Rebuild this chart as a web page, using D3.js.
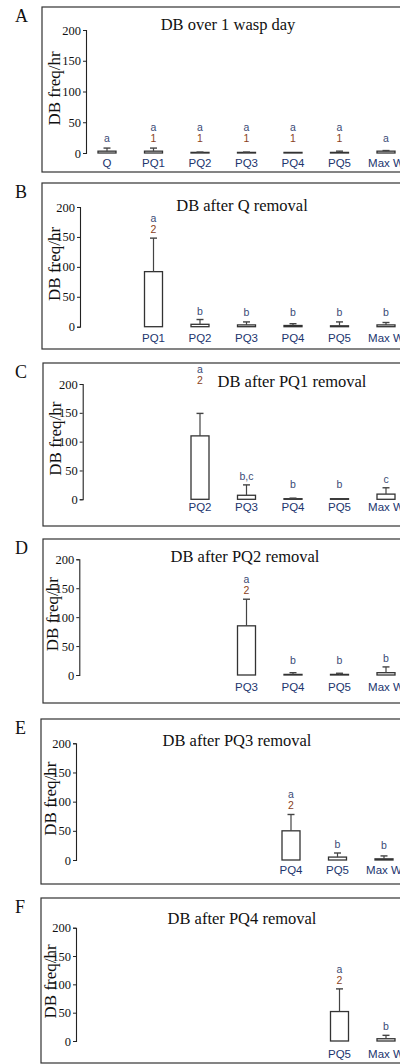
<!DOCTYPE html>
<html>
<head>
<meta charset="utf-8">
<script src="https://cdn.jsdelivr.net/npm/d3@7"></script>
<style>
  body { margin: 0; background: #fff; }
</style>
</head>
<body>
<svg id="chart"></svg>
<script>
// categories in the order they sit on every x-axis
const allCats = ["Q", "PQ1", "PQ2", "PQ3", "PQ4", "PQ5", "Max W"];
const yTicks = [0, 50, 100, 150, 200];
const panelIds = ["A", "B", "C", "D", "E", "F"];
const titles = ["DB over 1 wasp day", "DB after Q removal", "DB after PQ1 removal",
    "DB after PQ2 removal", "DB after PQ3 removal", "DB after PQ4 removal"];

// mean DB freq/hr, top of error bar, letter group, number group
const catsA = ["Q", "PQ1", "PQ2", "PQ3", "PQ4", "PQ5", "Max W"];
const meanA = [3, 3, 1, 1, 0, 1, 3];
const errA = [8, 8, 1.5, 1.5, 0, 3, 4];
const grpA = ["a", "a", "a", "a", "a", "a", "a"];
const numA = ["", "1", "1", "1", "1", "1", ""];

const catsB = ["PQ1", "PQ2", "PQ3", "PQ4", "PQ5", "Max W"];
const meanB = [92, 4, 3, 2, 1.5, 3];
const errB = [148, 12, 8, 5, 8, 7];
const grpB = ["a", "b", "b", "b", "b", "b"];
const numB = ["2", "", "", "", "", ""];

const catsC = ["PQ2", "PQ3", "PQ4", "PQ5", "Max W"];
const meanC = [110, 7, 1, 0, 9];
const errC = [149, 25, 2, 0, 20];
const grpC = ["a", "b,c", "b", "b", "c"];
const numC = ["2", "", "", "", ""];

const catsD = ["PQ3", "PQ4", "PQ5", "Max W"];
const meanD = [85, 1, 0, 4];
const errD = [131, 4, 3, 14];
const grpD = ["a", "b", "b", "b"];
const numD = ["2", "", "", ""];

const catsE = ["PQ4", "PQ5", "Max W"];
const meanE = [50, 5, 2];
const errE = [78, 12, 7];
const grpE = ["a", "b", "b"];
const numE = ["2", "", ""];

const catsF = ["PQ5", "Max W"];
const meanF = [52, 4];
const errF = [92, 10];
const grpF = ["a", "b"];
const numF = ["2", ""];

const w = 400, h = 1064;
const barW = 18, capW = 7;
const serif = '"Liberation Serif", "Times New Roman", "DejaVu Serif", serif';
const sans = '"Liberation Sans", Arial, sans-serif';

// frame / axis placement for each panel
let layout = [
    {top: 7, bottom: 172, left: 42, axisX: 86, y200: 30, y0: 153, tx: 228, ty: 30, lx: 54, catY: 167, shift: 0, lift: 0},
    {top: 183, bottom: 349, left: 42, axisX: 80, y200: 207, y0: 326.7, tx: 242, ty: 211, lx: 54, catY: 342, shift: 0, lift: 0},
    {top: 363, bottom: 526, left: 43, axisX: 82.7, y200: 384, y0: 499.3, tx: 292, ty: 387, lx: 55, catY: 511, shift: 0, lift: 24},
    {top: 539, bottom: 703, left: 43, axisX: 79.3, y200: 559.3, y0: 675, tx: 245, ty: 562, lx: 52, catY: 691, shift: 0, lift: 0},
    {top: 719, bottom: 884, left: 41, axisX: 76, y200: 743.3, y0: 860, tx: 237, ty: 746, lx: 50, catY: 874, shift: -2, lift: 0},
    {top: 898, bottom: 1063, left: 41, axisX: 76, y200: 927.7, y0: 1041, tx: 242, ty: 924, lx: 50, catY: 1058, shift: 0, lift: 0}
];

let panelData = [
    {cats: catsA, mean: meanA, err: errA, grp: grpA, num: numA},
    {cats: catsB, mean: meanB, err: errB, grp: grpB, num: numB},
    {cats: catsC, mean: meanC, err: errC, grp: grpC, num: numC},
    {cats: catsD, mean: meanD, err: errD, grp: grpD, num: numD},
    {cats: catsE, mean: meanE, err: errE, grp: grpE, num: numE},
    {cats: catsF, mean: meanF, err: errF, grp: grpF, num: numF}
];

let svg = d3.select('#chart')
    .attr('width', w)
    .attr('height', h);

function drawPanel(i) {
    let L = layout[i];
    let P = panelData[i];
    let g = svg.append('g');

    let rows = P.cats.map((c, k) => ({cat: c, mean: P.mean[k], err: P.err[k], grp: P.grp[k], num: P.num[k]}));

    let xScale = d3.scalePoint()
        .domain(allCats)
        .range([107 + L.shift, 386 + L.shift]);

    let yScale = d3.scaleLinear()
        .domain([0, 200])
        .range([L.y0, L.y200]);

    //frame
    g.append('rect')
        .attr('x', L.left)
        .attr('y', L.top)
        .attr('width', w)
        .attr('height', L.bottom - L.top)
        .attr('fill', 'none')
        .attr('stroke', '#333')
        .attr('stroke-width', 1.2);

    //panel letter
    g.append('text')
        .attr('x', 15)
        .attr('y', L.top + 15)
        .style('font-family', serif)
        .style('font-size', '18px')
        .attr('fill', '#111')
        .text(panelIds[i]);

    //title
    g.append('text')
        .attr('x', L.tx)
        .attr('y', L.ty)
        .style('text-anchor', 'middle')
        .style('font-family', serif)
        .style('font-size', '16.5px')
        .attr('fill', '#111')
        .text(titles[i]);

    //y-axis
    let yAxis = d3.axisLeft(yScale)
        .tickValues(yTicks)
        .tickSize(3)
        .tickPadding(2);

    let ax = g.append('g')
        .attr('transform', 'translate(' + L.axisX + ',0)')
        .call(yAxis);
    ax.select('.domain').attr('stroke', '#222').attr('stroke-width', 1.1);
    ax.selectAll('.tick line').attr('stroke', '#222');
    ax.selectAll('.tick text')
        .style('font-family', serif)
        .style('font-size', '12.5px')
        .attr('fill', '#111');

    //y-axis title
    g.append('text')
        .attr('transform', 'translate(' + L.lx + ',' + ((L.y0 + L.y200) / 2 - 3) + ') rotate(-90)')
        .attr('dy', '0.35em')
        .style('text-anchor', 'middle')
        .style('font-family', serif)
        .style('font-size', '17px')
        .attr('fill', '#111')
        .text('DB freq/hr');

    //bars (zero bars still show as a line)
    g.selectAll('rect.bar')
        .data(rows)
        .enter()
        .append('rect')
        .classed('bar', true)
        .attr('x', d => xScale(d.cat) - barW / 2)
        .attr('y', d => Math.min(yScale(d.mean), L.y0 - 0.6))
        .attr('width', barW)
        .attr('height', d => Math.max(L.y0 - yScale(d.mean), 0.6))
        .attr('fill', '#fff')
        .attr('stroke', '#333')
        .attr('stroke-width', 1.3);

    //error bars
    let eb = rows.filter(d => d.err > d.mean);
    g.selectAll('line.err')
        .data(eb)
        .enter()
        .append('line')
        .classed('err', true)
        .attr('x1', d => xScale(d.cat))
        .attr('x2', d => xScale(d.cat))
        .attr('y1', d => yScale(d.mean))
        .attr('y2', d => yScale(d.err))
        .attr('stroke', '#444')
        .attr('stroke-width', 1.2);
    g.selectAll('line.cap')
        .data(eb)
        .enter()
        .append('line')
        .classed('cap', true)
        .attr('x1', d => xScale(d.cat) - capW / 2)
        .attr('x2', d => xScale(d.cat) + capW / 2)
        .attr('y1', d => yScale(d.err))
        .attr('y2', d => yScale(d.err))
        .attr('stroke', '#444')
        .attr('stroke-width', 1.4);

    //category labels
    g.selectAll('text.cat')
        .data(rows)
        .enter()
        .append('text')
        .classed('cat', true)
        .attr('x', d => xScale(d.cat))
        .attr('y', L.catY)
        .style('text-anchor', 'middle')
        .style('font-family', sans)
        .style('font-size', '11.5px')
        .attr('fill', '#22356e')
        .text(d => d.cat);

    //significance letters: number on the bottom line, letter above it
    let base = d => Math.min(L.y0 - 11, yScale(d.err) - 5) - (d.mean > 50 ? L.lift : 0);
    g.selectAll('text.num')
        .data(rows.filter(d => d.num !== ""))
        .enter()
        .append('text')
        .classed('num', true)
        .attr('x', d => xScale(d.cat))
        .attr('y', d => base(d))
        .style('text-anchor', 'middle')
        .style('font-family', sans)
        .style('font-size', '10.5px')
        .attr('fill', '#8a3f1c')
        .text(d => d.num);
    g.selectAll('text.grp')
        .data(rows)
        .enter()
        .append('text')
        .classed('grp', true)
        .attr('x', d => xScale(d.cat))
        .attr('y', d => base(d) - (d.num !== "" ? 11 : 0))
        .style('text-anchor', 'middle')
        .style('font-family', sans)
        .style('font-size', '10.5px')
        .attr('fill', '#3a4b76')
        .text(d => d.grp);
}

panelIds.forEach((id, i) => drawPanel(i));
</script>
</body>
</html>
